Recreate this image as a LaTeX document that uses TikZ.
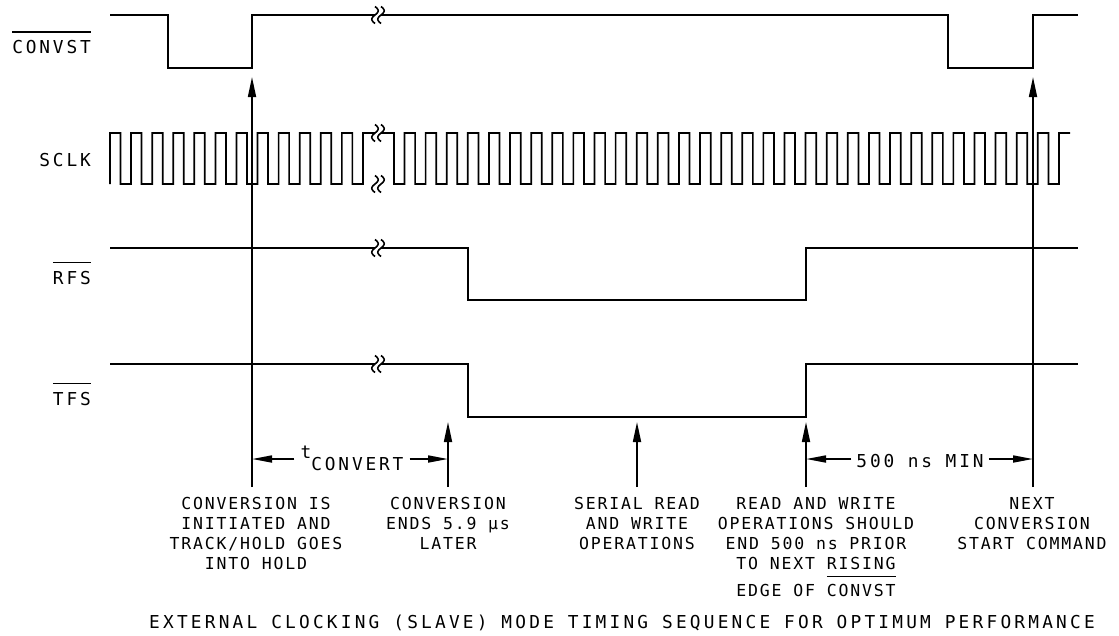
\documentclass[tikz,border=0pt]{standalone}
\usepackage{fontspec}
\usetikzlibrary{arrows.meta}
\newfontfamily\bigfont{DejaVu Sans Mono}[LetterSpace=16]
\newfontfamily\capfont{DejaVu Sans Mono}[LetterSpace=18]
\newfontfamily\smallfont{DejaVu Sans Mono}[LetterSpace=11]
\newcommand\ovlname[2]{\setbox0\hbox{#2}\rlap{\raisebox{#1}[0pt][0pt]{\rule{\wd0}{1.5pt}}}\box0}
\tikzset{
  sig/.style={line width=1.7pt, line join=miter},
  varrow/.style={line width=1.7pt, -{Triangle[length=20pt,width=8pt]}},
  dimarr/.style={line width=1.7pt, -{Triangle[length=20pt,width=7pt]}},
  big/.style={font={\bigfont\fontsize{17.8}{20}\selectfont}, inner sep=0pt},
  captext/.style={font={\capfont\fontsize{17.8}{20}\selectfont}, inner sep=0pt},
  lbl/.style={font={\smallfont\fontsize{16.5}{20}\selectfont}, inner sep=0pt, align=center},
  brk/.pic={\draw[line width=1.6pt] plot[domain=-1:1, samples=17, smooth] ({-3.2*sin(180*\x)}, {8.5*\x});}
}
\begin{document}
\begin{tikzpicture}[x=1pt, y=-1pt]
\useasboundingbox (0,0) rectangle (1119,635);

% signal labels
\node[big, anchor=base east] (lconv) at (91,53) {\ovlname{20.5pt}{CONVST}};
\node[big, anchor=base east] (lsclk) at (91,166) {SCLK};
\node[big, anchor=base east] (lrfs) at (91,284) {\ovlname{21pt}{RFS}};
\node[big, anchor=base east] (ltfs) at (91,405) {\ovlname{21pt}{TFS}};

% CONVST
\draw[sig] (110,15) -- (168,15) -- (168,68) -- (252,68) -- (252,15) -- (375,15);
\draw[sig] (381,15) -- (948,15) -- (948,68) -- (1033,68) -- (1033,15) -- (1078,15);
\pic at (375,15) {brk}; \pic at (381,15) {brk};

% SCLK
\draw[sig] (110,184) foreach \k in {0,...,11} { -- ({110+21.08*\k},133) -- ({120.5+21.08*\k},133) -- ({120.5+21.08*\k},184) -- ({131.08+21.08*\k},184) } -- (362.96,133) -- (375,133);
\draw[sig] (381,133) -- (394,133) foreach \k in {0,...,30} { -- ({394+21.11*\k},184) -- ({404.5+21.11*\k},184) -- ({404.5+21.11*\k},133) -- ({415.11+21.11*\k},133) } -- (1048.41,184) -- (1058.9,184) -- (1058.9,133) -- (1070,133);
\pic at (375,133) {brk}; \pic at (381,133) {brk};
\pic at (375,184) {brk}; \pic at (381,184) {brk};

% RFS
\draw[sig] (110,248) -- (375,248);
\draw[sig] (381,248) -- (468,248) -- (468,300) -- (806,300) -- (806,248) -- (1078,248);
\pic at (375,248) {brk}; \pic at (381,248) {brk};

% TFS
\draw[sig] (110,364) -- (375,364);
\draw[sig] (381,364) -- (468,364) -- (468,417) -- (806,417) -- (806,364) -- (1078,364);
\pic at (375,364) {brk}; \pic at (381,364) {brk};

% arrow coordinates
\coordinate (a1b) at (252,487); \coordinate (a1t) at (252,77);
\coordinate (a2b) at (448,487); \coordinate (a2t) at (448,422);
\coordinate (a3b) at (637,487); \coordinate (a3t) at (637,422);
\coordinate (a4b) at (806,487); \coordinate (a4t) at (806,422);
\coordinate (a5b) at (1033,487); \coordinate (a5t) at (1033,77);
\coordinate (d1) at (252,459); \coordinate (d2) at (448,459);
\coordinate (d3) at (806,459); \coordinate (d4) at (1033,459);

\draw[varrow] (a1b) -- (a1t);
\draw[varrow] (a2b) -- (a2t);
\draw[varrow] (a3b) -- (a3t);
\draw[varrow] (a4b) -- (a4t);
\draw[varrow] (a5b) -- (a5t);

% dimension labels
\node[big, anchor=base, inner xsep=6pt] (tconv) at (352,458) {t\raisebox{-12pt}{CONVERT}};
\node[big, anchor=base, inner xsep=5pt] (nsmin) at (920,467) {500 ns MIN};
\draw[dimarr] (tconv.west |- d1) -- (d1);
\draw[dimarr] (tconv.east |- d2) -- (d2);
\draw[dimarr] (nsmin.west |- d3) -- (d3);
\draw[dimarr] (nsmin.east |- d4) -- (d4);

% annotations
\node[lbl, anchor=north] (l1) at (256,497) {CONVERSION IS\\INITIATED AND\\TRACK/HOLD GOES\\INTO HOLD};
\node[lbl, anchor=north] (l2) at (448,497) {CONVERSION\\ENDS 5.9 μs\\LATER};
\node[lbl, anchor=north] (l3) at (637,497) {SERIAL READ\\AND WRITE\\OPERATIONS};
\node[lbl, anchor=north] (l4) at (816,497) {READ AND WRITE\\OPERATIONS SHOULD\\END 500 ns PRIOR\\TO NEXT RISING\\[7pt]EDGE OF \ovlname{19pt}{CONVST}};
\node[lbl, anchor=north] (l5) at (1032,497) {NEXT\\CONVERSION\\START COMMAND};

% caption
\node[captext, anchor=base] (cap) at (622,628) {EXTERNAL CLOCKING (SLAVE) MODE TIMING SEQUENCE FOR OPTIMUM PERFORMANCE};
\end{tikzpicture}
\end{document}
